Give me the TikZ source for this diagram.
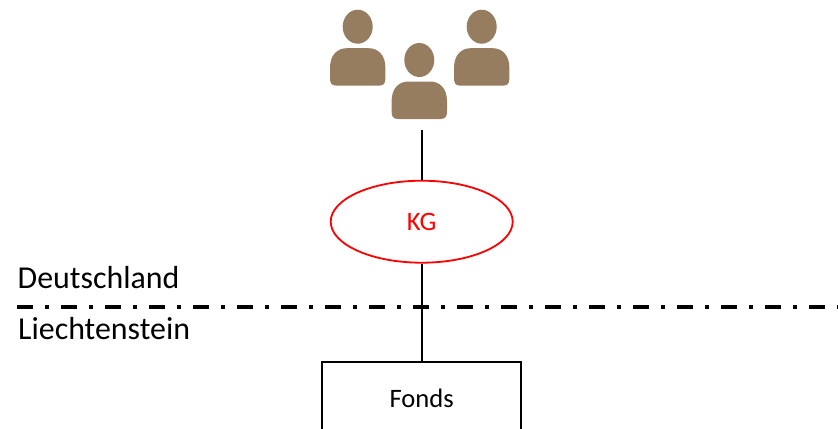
\documentclass[tikz,border=0pt]{standalone}
\usepackage{fontspec}
\setmainfont{Carlito}
\usetikzlibrary{shapes.geometric}
\definecolor{personbrown}{HTML}{967D5F}
\tikzset{
  head/.style={fill=personbrown,draw=none},
  body/.style={fill=personbrown,draw=none},
  link/.style={draw=black,line width=1.8bp},
  border/.style={draw=black,line width=3.6bp,dash pattern=on 16bp off 12bp on 4bp off 12bp},
  country/.style={font=\fontsize{31.9bp}{36bp}\selectfont,anchor=base west,inner sep=0pt,text=black},
  kgnode/.style={ellipse,draw=red,line width=1.8bp,minimum width=182bp,minimum height=82bp,inner sep=0pt,text=red,font=\fontsize{26.6bp}{30bp}\selectfont},
  fondsnode/.style={rectangle,draw=black,line width=1.8bp,minimum width=199bp,minimum height=72bp,inner sep=0pt,font=\fontsize{26.6bp}{30bp}\selectfont}
}
\newcommand{\personat}[2]{%
  \fill[head] (#1,#2) ellipse [x radius=15,y radius=17];
  \fill[body] (#1-27.7,#2+50) .. controls (#1-27.7,#2+56) and (#1-27,#2+59) .. (#1-21,#2+59)
     -- (#1+21,#2+59) .. controls (#1+27,#2+59) and (#1+27.7,#2+56) .. (#1+27.7,#2+50)
     -- (#1+27.7,#2+41) .. controls (#1+27.7,#2+28) and (#1+20,#2+21.5) .. (#1+11,#2+21.5)
     -- (#1-11,#2+21.5) .. controls (#1-20,#2+21.5) and (#1-27.7,#2+28) .. (#1-27.7,#2+41) -- cycle;
}
\begin{document}
\begin{tikzpicture}[x=1bp,y=-1bp]
  \useasboundingbox (0,0) rectangle (838,428);
  \clip (0,0) rectangle (838,428);
  \personat{357.7}{26.7}
  \personat{481.7}{26.7}
  \personat{419.3}{60}
  \coordinate (people) at (421.7,130);
  \node[kgnode] (kg) at (421.7,221.7) {\raisebox{-1bp}{KG}};
  \node[fondsnode] (fonds) at (421.7,398) {Fonds};
  \draw[link] (people) -- (kg.north);
  \draw[link] (kg.south) -- (fonds.north);
  \coordinate (borderL) at (17,307);
  \coordinate (borderR) at (838,307);
  \draw[border] (borderL) -- (borderR);
  \node[country] (de) at (17.5,288.7) {Deutschland};
  \node[country] (li) at (18,339) {Liechtenstein};
\end{tikzpicture}
\end{document}
